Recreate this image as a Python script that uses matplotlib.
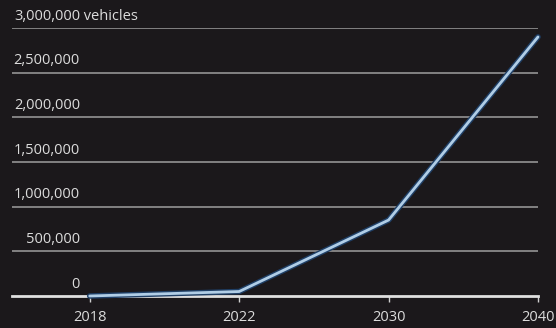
import matplotlib
matplotlib.use("Agg")
import matplotlib.pyplot as plt

years = ["2018", "2022", "2030", "2040"]
vehicles = [0, 50000, 850000, 2900000]
yticks = [0, 500000, 1000000, 1500000, 2000000, 2500000, 3000000]
ytick_labels = ["0", "500,000", "1,000,000", "1,500,000", "2,000,000", "2,500,000", "3,000,000"]

bg = "#1b181b"
plt.rcParams['font.family'] = ['Open Sans', 'DejaVu Sans']

fig = plt.figure(figsize=(5.56, 3.28), dpi=100, facecolor=bg)
W, H = 556, 328
ax = fig.add_axes([12 / W, (H - 296) / H, (538 - 12) / W, (296 - 28) / H])
ax.set_facecolor(bg)
x = list(range(len(years)))
ax.set_xlim(-0.52, 3.0)
ax.set_ylim(0, 3000000)

for v in yticks[1:]:
    ax.axhline(v, color="#8a8a8a", lw=1.3, zorder=1)
ax.axhline(0, color="#e0e0e0", lw=2.0, zorder=3, clip_on=False)

ax.plot(x, vehicles, color="#1f3f66", lw=4.0, zorder=4, solid_capstyle="round", clip_on=False)
ax.plot(x, vehicles, color="#b0cde6", lw=2.0, zorder=5, solid_capstyle="round", clip_on=False)

for sp in ax.spines.values():
    sp.set_visible(False)

fs = 10.5
ax.set_yticks([])
ax.set_xticks(x)
ax.set_xticklabels(years, color="#dcdcdc", fontsize=fs)
ax.tick_params(axis="x", length=4, width=1, color="#cfcfcf", pad=6)

for v, lab in zip(yticks, ytick_labels):
    t = ax.annotate(lab, xy=(68 / (538 - 12), v), xycoords=("axes fraction", "data"),
                    xytext=(0, 3), textcoords="offset points",
                    ha="right", va="bottom", color="#dcdcdc", fontsize=fs)
    if v == yticks[-1]:
        ax.annotate(" vehicles", xy=(1, 0), xycoords=t, ha="left", va="bottom",
                    color="#dcdcdc", fontsize=fs)

fig.savefig("out.png", dpi=100, facecolor=bg)
